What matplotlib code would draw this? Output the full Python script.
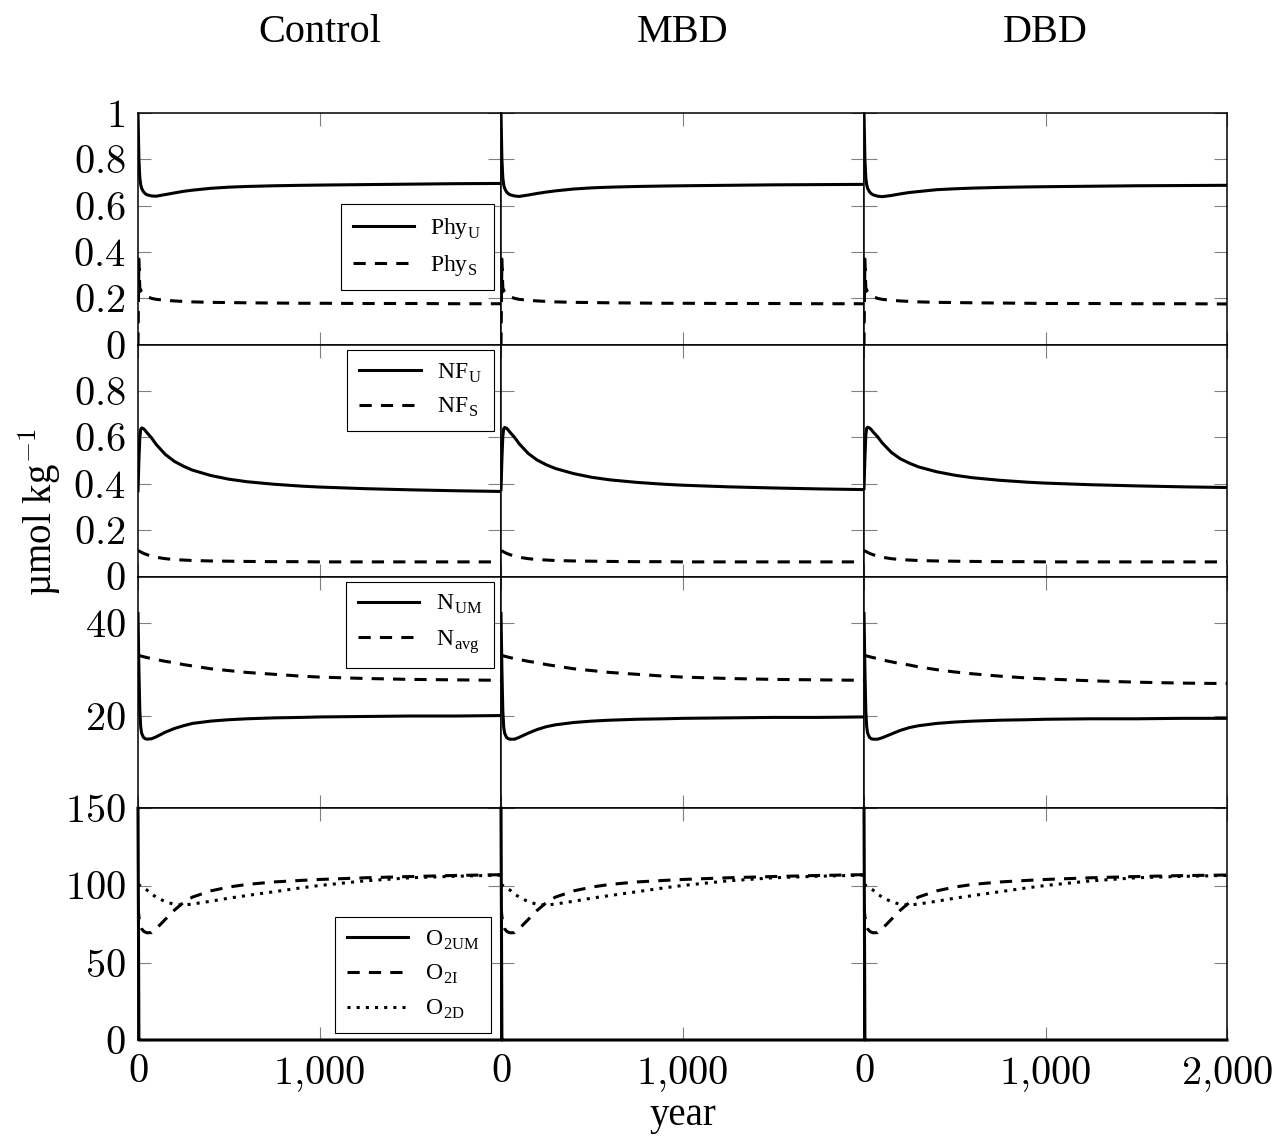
import matplotlib
matplotlib.use('Agg')
import matplotlib.pyplot as plt

plt.rcParams['font.family'] = ['Liberation Serif', 'DejaVu Serif']
plt.rcParams['mathtext.fontset'] = 'cm'

# ---------------- data ----------------
columns = ['Control', 'MBD', 'DBD']
years = [0, 5, 10, 15, 20, 30, 40, 50, 75, 100, 150, 200, 250, 300, 400, 500,
         600, 750, 900, 1000, 1250, 1500, 1750, 2000]

phyU_control = [1.000, 0.800, 0.720, 0.690, 0.675, 0.660, 0.652, 0.647, 0.642, 0.641, 0.648, 0.655,
                0.662, 0.667, 0.675, 0.680, 0.683, 0.686, 0.688, 0.689, 0.691, 0.693, 0.695, 0.696]
phyU_mbd = [1.000, 0.800, 0.720, 0.690, 0.675, 0.660, 0.652, 0.647, 0.642, 0.640, 0.646, 0.653,
            0.659, 0.664, 0.672, 0.677, 0.680, 0.683, 0.685, 0.686, 0.688, 0.690, 0.691, 0.692]
phyU_dbd = [1.000, 0.800, 0.720, 0.690, 0.675, 0.660, 0.652, 0.647, 0.641, 0.639, 0.644, 0.651,
            0.657, 0.661, 0.669, 0.673, 0.676, 0.679, 0.681, 0.682, 0.684, 0.686, 0.687, 0.688]

phyS_control = [0.000, 0.370, 0.245, 0.236, 0.228, 0.220, 0.213, 0.208, 0.200, 0.196, 0.192, 0.189,
                0.187, 0.185, 0.183, 0.182, 0.181, 0.180, 0.179, 0.179, 0.178, 0.178, 0.177, 0.177]
phyS_mbd = [0.000, 0.370, 0.245, 0.236, 0.228, 0.220, 0.213, 0.208, 0.200, 0.196, 0.192, 0.189,
            0.187, 0.185, 0.183, 0.182, 0.181, 0.180, 0.179, 0.179, 0.178, 0.178, 0.177, 0.177]
phyS_dbd = [0.000, 0.370, 0.245, 0.236, 0.228, 0.220, 0.213, 0.208, 0.200, 0.196, 0.192, 0.189,
            0.187, 0.185, 0.183, 0.182, 0.181, 0.180, 0.179, 0.178, 0.178, 0.177, 0.177, 0.176]

nfU_control = [0.370, 0.500, 0.600, 0.635, 0.641, 0.638, 0.630, 0.620, 0.598, 0.570, 0.527, 0.497,
               0.476, 0.459, 0.436, 0.420, 0.409, 0.398, 0.390, 0.386, 0.379, 0.374, 0.370, 0.367]
nfU_mbd = [0.375, 0.505, 0.605, 0.638, 0.643, 0.640, 0.632, 0.622, 0.600, 0.573, 0.531, 0.502,
           0.482, 0.466, 0.444, 0.428, 0.417, 0.406, 0.398, 0.394, 0.387, 0.382, 0.378, 0.375]
nfU_dbd = [0.380, 0.510, 0.610, 0.640, 0.644, 0.641, 0.634, 0.624, 0.603, 0.577, 0.536, 0.508,
           0.489, 0.473, 0.452, 0.437, 0.426, 0.415, 0.407, 0.403, 0.396, 0.391, 0.387, 0.384]

nfS_control = [0.112, 0.110, 0.108, 0.106, 0.104, 0.100, 0.097, 0.094, 0.088, 0.083, 0.077, 0.073,
               0.071, 0.069, 0.067, 0.066, 0.065, 0.064, 0.064, 0.063, 0.063, 0.063, 0.063, 0.063]
nfS_mbd = [0.112, 0.110, 0.108, 0.106, 0.104, 0.100, 0.097, 0.094, 0.088, 0.083, 0.077, 0.073,
           0.071, 0.069, 0.067, 0.066, 0.065, 0.064, 0.064, 0.063, 0.063, 0.063, 0.063, 0.063]
nfS_dbd = [0.112, 0.110, 0.108, 0.106, 0.104, 0.100, 0.097, 0.094, 0.088, 0.083, 0.077, 0.073,
           0.071, 0.069, 0.067, 0.066, 0.065, 0.064, 0.064, 0.063, 0.063, 0.063, 0.063, 0.063]

nUM_control = [42.0, 30.0, 21.0, 17.5, 16.2, 15.3, 15.0, 14.9, 15.0, 15.4, 16.4, 17.2,
               17.8, 18.3, 18.8, 19.1, 19.3, 19.5, 19.6, 19.7, 19.8, 19.9, 19.9, 20.0]
nUM_mbd = [42.0, 30.0, 21.0, 17.5, 16.2, 15.3, 15.0, 14.9, 14.9, 15.3, 16.2, 17.0,
           17.6, 18.0, 18.5, 18.8, 19.0, 19.2, 19.3, 19.4, 19.5, 19.6, 19.6, 19.7]
nUM_dbd = [42.0, 30.0, 21.0, 17.5, 16.2, 15.3, 15.0, 14.9, 14.9, 15.2, 16.0, 16.8,
           17.4, 17.8, 18.3, 18.6, 18.8, 19.0, 19.1, 19.2, 19.3, 19.3, 19.4, 19.4]

nAvg_control = [33.0, 32.95, 32.9, 32.85, 32.8, 32.7, 32.6, 32.5, 32.3, 32.1, 31.7, 31.4,
                31.0, 30.7, 30.1, 29.7, 29.3, 28.9, 28.5, 28.3, 28.0, 27.8, 27.7, 27.6]
nAvg_mbd = [33.0, 32.95, 32.9, 32.85, 32.8, 32.7, 32.6, 32.5, 32.3, 32.1, 31.7, 31.4,
            31.0, 30.7, 30.1, 29.7, 29.3, 28.9, 28.5, 28.3, 28.0, 27.8, 27.7, 27.6]
nAvg_dbd = [33.0, 32.95, 32.9, 32.85, 32.8, 32.7, 32.6, 32.5, 32.3, 32.0, 31.6, 31.2,
            30.9, 30.5, 29.9, 29.4, 29.0, 28.5, 28.1, 27.9, 27.5, 27.2, 27.0, 26.9]

o2UM_control = [150, 0, 0, 0, 0, 0, 0, 0, 0, 0, 0, 0, 0, 0, 0, 0, 0, 0, 0, 0, 0, 0, 0, 0]
o2UM_mbd = [150, 0, 0, 0, 0, 0, 0, 0, 0, 0, 0, 0, 0, 0, 0, 0, 0, 0, 0, 0, 0, 0, 0, 0]
o2UM_dbd = [150, 0, 0, 0, 0, 0, 0, 0, 0, 0, 0, 0, 0, 0, 0, 0, 0, 0, 0, 0, 0, 0, 0, 0]

o2I_control = [86, 80, 76, 73.5, 72, 70.5, 69.8, 69.4, 69.5, 72, 78, 84,
               89, 92.5, 96.5, 99.0, 100.7, 102.3, 103.3, 103.9, 105.0, 105.8, 106.5, 107.0]
o2I_mbd = [86, 80, 76, 73.5, 72, 70.5, 69.8, 69.4, 69.5, 72, 78, 84,
           89, 92.5, 96.5, 99.0, 100.7, 102.3, 103.3, 103.9, 105.0, 105.8, 106.5, 107.0]
o2I_dbd = [86, 80, 76, 73.5, 72, 70.5, 69.8, 69.4, 69.5, 72, 78, 84,
           89, 92.5, 96.5, 99.0, 100.7, 102.3, 103.3, 103.9, 105.0, 105.8, 106.4, 106.8]

o2D_control = [100.5, 100.3, 100, 99.6, 99.2, 98.5, 97.7, 97, 94.5, 92.5, 89.5, 87.8,
               87.3, 88.0, 89.8, 91.8, 93.5, 96.0, 98.5, 100.0, 103.0, 105.0, 106.0, 106.7]
o2D_mbd = [100.5, 100.3, 100, 99.6, 99.2, 98.5, 97.7, 97, 94.5, 92.5, 89.5, 87.8,
           87.3, 88.0, 89.8, 91.8, 93.5, 96.0, 98.5, 100.0, 103.0, 105.0, 106.0, 106.7]
o2D_dbd = [100.5, 100.3, 100, 99.6, 99.2, 98.5, 97.7, 97, 94.5, 92.5, 89.5, 87.8,
           87.3, 88.0, 89.8, 91.8, 93.5, 96.0, 98.5, 100.0, 103.0, 105.0, 105.9, 106.5]

row_ylims = [(0, 1), (0, 1), (0, 50), (0, 150)]
row_yticks = [[0, 0.2, 0.4, 0.6, 0.8, 1], [0, 0.2, 0.4, 0.6, 0.8], [20, 40], [0, 50, 100, 150]]
row_yticklabels = [['0', '0.2', '0.4', '0.6', '0.8', '1'], ['0', '0.2', '0.4', '0.6', '0.8'],
                   ['20', '40'], ['0', '50', '100', '150']]
x_ticks = [0, 1000, 2000]
x_ticklabels = ['0', '1{,}000', '2{,}000']

labels = [
    [r'Phy$_{\mathdefault{U}}$', r'Phy$_{\mathdefault{S}}$'],
    [r'NF$_{\mathdefault{U}}$', r'NF$_{\mathdefault{S}}$'],
    [r'N$_{\mathdefault{UM}}$', r'N$_{\mathdefault{avg}}$'],
    [r'O$_{\mathdefault{2UM}}$', r'O$_{\mathdefault{2I}}$', r'O$_{\mathdefault{2D}}$'],
]

data = [
    [[phyU_control, phyS_control], [phyU_mbd, phyS_mbd], [phyU_dbd, phyS_dbd]],
    [[nfU_control, nfS_control], [nfU_mbd, nfS_mbd], [nfU_dbd, nfS_dbd]],
    [[nUM_control, nAvg_control], [nUM_mbd, nAvg_mbd], [nUM_dbd, nAvg_dbd]],
    [[o2UM_control, o2I_control, o2D_control], [o2UM_mbd, o2I_mbd, o2D_mbd],
     [o2UM_dbd, o2I_dbd, o2D_dbd]],
]

# ---------------- styling ----------------
styles = ['-', (0, (4, 3)), (0, (1, 2))]
LW = 2.2
legend_locs = [('lower right', (0.98, 0.237)), ('upper right', (0.98, 0.978)),
               ('upper right', (0.98, 0.978)), ('lower right', (0.972, 0.03))]

W, H = 1287, 1140
fig = plt.figure(figsize=(W / 100, H / 100), dpi=100)
gs = fig.add_gridspec(4, 3, left=138 / W, right=1227 / W, top=1 - 113 / H,
                      bottom=1 - 1040 / H, wspace=0, hspace=0)

axes = [[None] * 3 for _ in range(4)]
for r in range(4):
    for c in range(3):
        ax = fig.add_subplot(gs[r, c])
        axes[r][c] = ax
        handles = []
        for k, series in enumerate(data[r][c]):
            ln, = ax.plot(years, series, color='black', lw=LW, linestyle=styles[k],
                          clip_on=(r != 3 or k != 0), zorder=3)
            handles.append(ln)
        ax.set_xlim(0, 2000)
        ax.set_ylim(*row_ylims[r])
        ax.set_xticks(x_ticks)
        ax.set_yticks(row_yticks[r])
        for sp in ax.spines.values():
            sp.set_linewidth(1.1)
            sp.set_zorder(4)
        ax.tick_params(direction='in', length=9.5, width=0.8, color='#808080',
                       top=True, right=True, labelsize=29)
        ax.tick_params(axis='y', pad=9)
        ax.tick_params(axis='x', pad=10)
        if c == 0:
            ax.set_yticklabels(['$' + s + '$' for s in row_yticklabels[r]])
        else:
            ax.tick_params(labelleft=False)
        if r == 3:
            xl = ['$' + s + '$' for s in x_ticklabels]
            if c < 2:
                xl[-1] = ''
            ax.set_xticklabels(xl)
        else:
            ax.tick_params(labelbottom=False)
        if c == 0:
            loc, anchor = legend_locs[r]
            leg = ax.legend(handles, labels[r], loc=loc, bbox_to_anchor=anchor,
                            fontsize=17, handlelength=2.6, fancybox=False,
                            edgecolor='black', framealpha=1, borderpad=0.5,
                            labelspacing=0.5, handletextpad=0.7, borderaxespad=0)
            leg.get_frame().set_linewidth(0.8)
            leg.set_zorder(5)

# column titles
for c, name in enumerate(columns):
    pos = axes[0][c].get_position()
    fig.text((pos.x0 + pos.x1) / 2, 1 - 32 / H, name, ha='center', va='center', fontsize=29)

fig.text(683 / W, 1 - 1116 / H, 'year', ha='center', va='center', fontsize=28)
fig.text(40 / W, 1 - 512 / H, r'µmol kg$^{-1}$', ha='center', va='center',
         rotation=90, fontsize=28)

fig.savefig('out.png', dpi=100)
